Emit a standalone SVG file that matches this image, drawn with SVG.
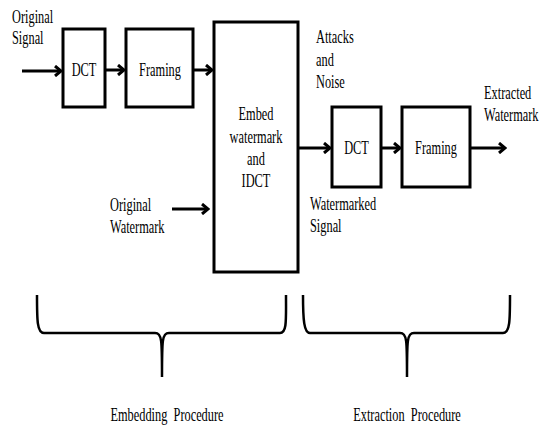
<svg xmlns="http://www.w3.org/2000/svg" width="543" height="425" viewBox="0 0 543 425">
<defs>
<style>
.box{fill:#fff;stroke:#000;stroke-width:3}
.t{font-family:'Liberation Serif','DejaVu Serif','Times New Roman',serif;font-size:19px;fill:#000}
.c{text-anchor:middle}
.ln{stroke:#000;stroke-width:3;fill:none}
.br{stroke:#000;stroke-width:2.5;fill:none}
</style>
<marker id="ah" markerWidth="10" markerHeight="12" refX="8" refY="6" orient="auto" markerUnits="userSpaceOnUse">
<path d="M2,1 L8,6 L2,11" fill="none" stroke="#000" stroke-width="3"/>
</marker>
</defs>
<rect width="543" height="425" fill="#fff"/>
<g id="connectors">
<line class="ln" x1="22" y1="71" x2="61" y2="71" marker-end="url(#ah)"/>
<line class="ln" x1="105" y1="70" x2="124" y2="70" marker-end="url(#ah)"/>
<line class="ln" x1="193" y1="70" x2="212" y2="70" marker-end="url(#ah)"/>
<line class="ln" x1="172" y1="209" x2="208" y2="209" marker-end="url(#ah)"/>
<line class="ln" x1="298" y1="148" x2="330" y2="148" marker-end="url(#ah)"/>
<line class="ln" x1="381" y1="148" x2="400" y2="148" marker-end="url(#ah)"/>
<line class="ln" x1="470" y1="148" x2="505" y2="148" marker-end="url(#ah)"/>
</g>
<g id="original-signal" font-family="Liberation Serif, serif">
<text class="t" transform="translate(12,23) scale(0.65,1)">Original</text>
<text class="t" transform="translate(12,44) scale(0.65,1)">Signal</text></g>
<g id="dct1"><rect class="box" x="63" y="29" width="42" height="78"/>
<text class="t c" transform="translate(84,76) scale(0.65,1)">DCT</text></g>
<g id="framing1"><rect class="box" x="126" y="29" width="67" height="78"/>
<text class="t c" transform="translate(160,76) scale(0.65,1)">Framing</text></g>
<g id="embed"><rect class="box" x="214" y="22" width="84" height="250"/>
<text class="t c" transform="translate(256,120) scale(0.65,1)">Embed</text>
<text class="t c" transform="translate(256,143) scale(0.65,1)">watermark</text>
<text class="t c" transform="translate(256,165) scale(0.65,1)">and</text>
<text class="t c" transform="translate(256,187) scale(0.65,1)">IDCT</text></g>
<g id="original-watermark">
<text class="t" transform="translate(110,211) scale(0.65,1)">Original</text>
<text class="t" transform="translate(110,233) scale(0.65,1)">Watermark</text></g>
<g id="attacks">
<text class="t" transform="translate(316,43) scale(0.65,1)">Attacks</text>
<text class="t" transform="translate(316,66) scale(0.65,1)">and</text>
<text class="t" transform="translate(316,88) scale(0.65,1)">Noise</text></g>
<g id="watermarked-signal">
<text class="t" transform="translate(310,210) scale(0.65,1)">Watermarked</text>
<text class="t" transform="translate(310,232) scale(0.65,1)">Signal</text></g>
<g id="dct2"><rect class="box" x="332" y="107" width="49" height="80"/>
<text class="t c" transform="translate(356.5,154) scale(0.65,1)">DCT</text></g>
<g id="framing2"><rect class="box" x="402" y="107" width="68" height="80"/>
<text class="t c" transform="translate(436,154) scale(0.65,1)">Framing</text></g>
<g id="extracted">
<text class="t" transform="translate(484,99) scale(0.65,1)">Extracted</text>
<text class="t" transform="translate(484,121) scale(0.65,1)">Watermark</text></g>
<g id="embedding-brace">
<path class="br" d="M37,295 C37,320 37,333 44,333 L155,333 C162,333 162,340 162,377 C162,340 162,333 169,333 L280,333 C287,333 286,320 286,295"/>
<text class="t c" transform="translate(167,421) scale(0.65,1)" xml:space="preserve">Embedding  Procedure</text></g>
<g id="extraction-brace">
<path class="br" d="M303,295 C303,320 304,333 310,333 L400,333 C407,333 407,340 407,377 C407,340 407,333 414,333 L503,333 C510,333 510,320 510,295"/>
<text class="t c" transform="translate(407,421) scale(0.65,1)" xml:space="preserve">Extraction  Procedure</text></g>
</svg>
